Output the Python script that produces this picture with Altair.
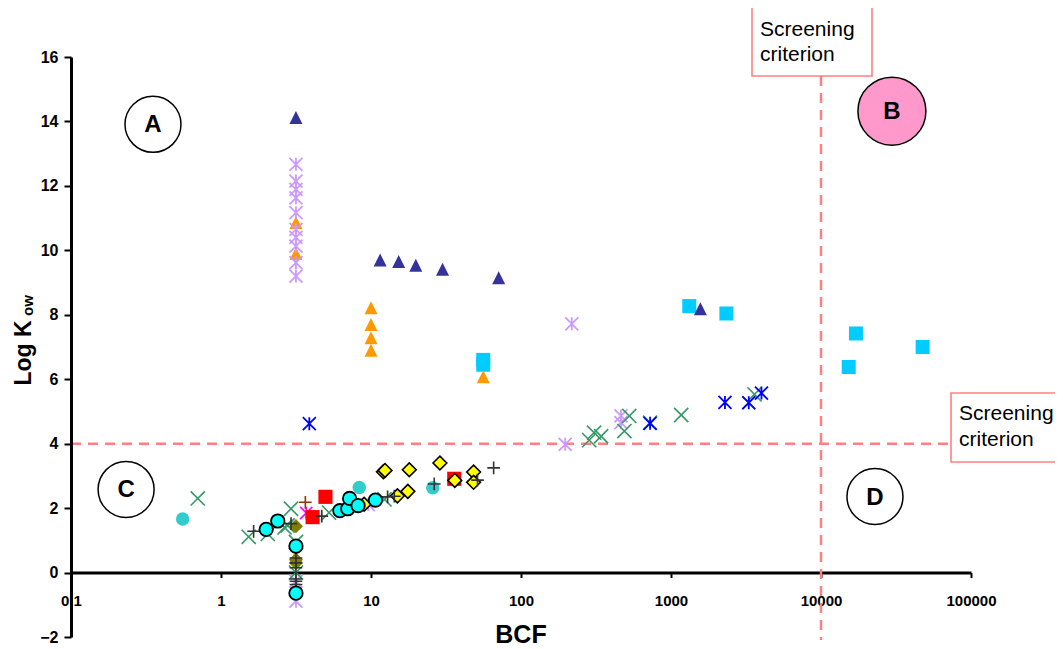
import altair as alt
import pandas as pd

FONT = "Liberation Sans"

# ---------------- data (BCF, log Kow) ----------------
cyan_sq_x = [56, 56, 1324, 2340, 17100, 47600, 15300]
cyan_sq_y = [6.6, 6.45, 8.27, 8.04, 7.42, 7.0, 6.38]

navy_tri_x = [3.16, 11.5, 15.3, 19.9, 30, 71, 1570]
navy_tri_y = [14.12, 9.7, 9.65, 9.54, 9.41, 9.15, 8.19]

orange_tri_x = [3.16, 3.16, 10, 10, 10, 10, 56, 3.16]
orange_tri_y = [10.86, 9.9, 8.22, 7.7, 7.29, 6.9, 6.08, 0.5]

lav_ast_x = [3.16, 3.16, 3.16, 3.16, 3.16, 3.16, 3.16, 3.16, 3.16, 3.16,
             218, 197, 464, 464, 9.6, 3.16, 3.16]
lav_ast_y = [12.67, 12.15, 11.89, 11.63, 11.17, 10.65, 10.4, 10.13, 9.62, 9.2,
             7.72, 3.98, 4.86, 4.65, 2.11, -0.27, -0.89]

green_x_x = [0.70, 1.53, 2.05, 2.65, 2.93, 2.78, 5.25, 12.3, 3.16, 3.16,
             285, 307, 342, 489, 527, 725, 1170, 3600]
green_x_y = [2.30, 1.11, 1.2, 1.4, 1.98, 1.46, 1.86, 2.27, 0.95, 0.0,
             4.11, 4.34, 4.23, 4.39, 4.86, 4.65, 4.89, 5.53]

blue_ast_x = [3.88, 725, 2290, 3300, 4010]
blue_ast_y = [4.62, 4.63, 5.28, 5.27, 5.57]

teal_circ_x = [0.555, 8.35, 25.8]
teal_circ_y = [1.66, 2.64, 2.63]

olive_dia_x = [3.16, 3.16, 3.16]
olive_dia_y = [1.44, 0.4, 0.3]

magenta_x = [3.7]
magenta_y = [1.85]

red_sq_x = [4.08, 4.97, 35.9]
red_sq_y = [1.72, 2.35, 2.91]

brown_plus_x = [3.65]
brown_plus_y = [2.18]

yellow_dia_x = [12.1, 12.4, 18, 28.8, 48.3, 15, 17.6, 36.2, 48.3, 9.0]
yellow_dia_y = [3.13, 3.17, 3.19, 3.4, 3.12, 2.38, 2.52, 2.86, 2.80, 2.12]

gray_plus_x = [1.65, 2.93, 4.7, 12.9, 14.3, 26.4, 51.3, 65.7,
               3.16, 3.16, 3.16, 3.16, 3.16, 3.16]
gray_plus_y = [1.28, 1.52, 1.75, 2.35, 2.37, 2.75, 2.87, 3.25,
               0.45, 0.3, 0.15, -0.2, -0.27, -0.37]

cyan_circ_x = [2.0, 2.39, 6.2, 7.0, 7.2, 8.2, 10.7, 3.16, 3.16]
cyan_circ_y = [1.34, 1.60, 1.92, 1.98, 2.30, 2.08, 2.25, 0.82, -0.64]

# screening criteria
crit_bcf = [10000]
crit_kow = [4]

# quadrant labels (positions in data units)
quad_labels = ["A", "B", "C", "D"]
quad_x = [0.352, 29700, 0.233, 22900]
quad_y = [13.91, 14.32, 2.58, 2.36]
quad_fill = ["white", "#FF99CC", "white", "white"]
quad_size = [3136, 4624, 3136, 3136]

x_ticks = [0.1, 1, 10, 100, 1000, 10000, 100000]
y_ticks = [-2, 0, 2, 4, 6, 8, 10, 12, 14, 16]

# ---------------- shapes ----------------
AST = "M-1,-1L1,1M-1,1L1,-1M0,-1L0,1"
XSH = "M-1,-1L1,1M-1,1L1,-1"
PLUS = "M-1,0L1,0M0,-1L0,1"
TRI = "M0,-1L1,1L-1,1Z"

xscale = alt.Scale(type="log", domain=[0.1, 100000], nice=False)
yscale = alt.Scale(domain=[-2, 16], nice=False, zero=False)

PLOT_W, PLOT_H = 900, 580
y0_px = PLOT_H * 16 / 18.0

x_axis = alt.Axis(
    values=x_ticks, labelExpr="datum.value < 1 ? '0.1' : format(datum.value, 'd')",
    grid=False, offset=-(PLOT_H - y0_px), domainColor="black", domainWidth=3,
    tickColor="black", tickWidth=2, tickSize=5, labelFont=FONT, labelFontWeight="bold",
    labelFontSize=15, labelColor="black", labelPadding=16, labelFlush=False,
    labelOverlap=False, title=None, zindex=0,
)
y_axis = alt.Axis(
    values=y_ticks, grid=False, domainColor="black", domainWidth=3, tickColor="black",
    tickWidth=2, tickSize=7, labelFont=FONT, labelFontWeight="bold", labelFontSize=16,
    labelColor="black", labelPadding=6, title=None, zindex=1,
)

X = alt.X("bcf:Q", scale=xscale, axis=x_axis)
Y = alt.Y("logkow:Q", scale=yscale, axis=y_axis)


def df(xs, ys):
    return pd.DataFrame({"bcf": xs, "logkow": ys})


def series(xs, ys, shape, size, color=None, fill=None, stroke=None, sw=1.5, filled=True):
    kw = dict(shape=shape, size=size, opacity=1, strokeWidth=sw)
    if filled:
        kw["filled"] = True
        kw["fill"] = fill
        if stroke:
            kw["stroke"] = stroke
        else:
            kw["strokeWidth"] = 0
    else:
        kw["filled"] = False
        kw["stroke"] = color
        kw["fill"] = "transparent"
    return alt.Chart(df(xs, ys)).mark_point(**kw).encode(x=X, y=Y)


one = pd.DataFrame({"k": [0]})

# screening lines
h_rule = alt.Chart(pd.DataFrame({"logkow": crit_kow})).mark_rule(
    color="#FF8080", strokeWidth=2.5, strokeDash=[10, 7]
).encode(y=Y, x=alt.value(0), x2=alt.value(880))
v_rule = alt.Chart(pd.DataFrame({"bcf": crit_bcf})).mark_rule(
    color="#FF8080", strokeWidth=2.5, strokeDash=[10, 7]
).encode(x=X, y=alt.value(19), y2=alt.value(583))

box_style = dict(fill="white", stroke="#FF8080", strokeWidth=1.6)
box_top = alt.Chart(one).mark_rect(**box_style).encode(
    x=alt.value(681), x2=alt.value(801), y=alt.value(-50), y2=alt.value(19))
box_right = alt.Chart(one).mark_rect(**box_style).encode(
    x=alt.value(880), x2=alt.value(1000), y=alt.value(336), y2=alt.value(405))

txt_style = dict(font=FONT, fontSize=21, color="black", align="left", baseline="middle")
t1 = alt.Chart(one).mark_text(**txt_style, text="Screening").encode(x=alt.value(689), y=alt.value(-27))
t2 = alt.Chart(one).mark_text(**txt_style, text="criterion").encode(x=alt.value(689), y=alt.value(-2))
t3 = alt.Chart(one).mark_text(**txt_style, text="Screening").encode(x=alt.value(888), y=alt.value(357))
t4 = alt.Chart(one).mark_text(**txt_style, text="criterion").encode(x=alt.value(888), y=alt.value(383))

quad_df = pd.DataFrame({"bcf": quad_x, "logkow": quad_y, "lab": quad_labels,
                        "fill": quad_fill, "size": quad_size})
quad_circ = alt.Chart(quad_df).mark_point(
    shape="circle", filled=True, stroke="black", strokeWidth=1.5, opacity=1
).encode(x=X, y=Y, fill=alt.Fill("fill:N", scale=None), size=alt.Size("size:Q", scale=None))
quad_txt = alt.Chart(quad_df).mark_text(
    font=FONT, fontSize=24, fontWeight="bold", color="black", baseline="middle", dy=1
).encode(x=X, y=Y, text="lab:N")

# axis titles
ytitle1 = alt.Chart(one).mark_text(
    font=FONT, fontSize=23, fontWeight="bold", color="black", angle=270,
    align="center", baseline="alphabetic", text="Log K"
).encode(x=alt.value(-40), y=alt.value(296))
ytitle2 = alt.Chart(one).mark_text(
    font=FONT, fontSize=15, fontWeight="bold", color="black", angle=270,
    align="left", baseline="alphabetic", text="ow"
).encode(x=alt.value(-38), y=alt.value(259))
xtitle = alt.Chart(one).mark_text(
    font=FONT, fontSize=25, fontWeight="bold", color="black",
    align="center", baseline="alphabetic", text="BCF"
).encode(x=alt.value(450), y=alt.value(586))

layers = [
    h_rule, v_rule,
    series(cyan_sq_x, cyan_sq_y, "square", 196, fill="#00CCFF"),
    series(navy_tri_x, navy_tri_y, TRI, 169, fill="#333399"),
    series(orange_tri_x, orange_tri_y, TRI, 169, fill="#FF9900"),
    series(lav_ast_x, lav_ast_y, AST, 169, color="#CC99FF", sw=1.8, filled=False),
    series(green_x_x, green_x_y, XSH, 200, color="#339966", sw=1.6, filled=False),
    series(blue_ast_x, blue_ast_y, AST, 169, color="#0000FF", sw=1.8, filled=False),
    series(teal_circ_x, teal_circ_y, "circle", 180, fill="#33CCCC"),
    series(olive_dia_x, olive_dia_y, "diamond", 200, fill="#808000"),
    series(magenta_x, magenta_y, AST, 150, color="#FF00FF", sw=1.6, filled=False),
    series(red_sq_x, red_sq_y, "square", 200, fill="#FF0000"),
    series(brown_plus_x, brown_plus_y, PLUS, 160, color="#993300", sw=1.6, filled=False),
    series(yellow_dia_x, yellow_dia_y, "diamond", 190, fill="#FFFF00", stroke="black", sw=1.6),
    series(gray_plus_x, gray_plus_y, PLUS, 160, color="#333333", sw=1.6, filled=False),
    series(cyan_circ_x, cyan_circ_y, "circle", 180, fill="#00FFFF", stroke="black", sw=1.8),
    box_top, box_right, t1, t2, t3, t4,
    quad_circ, quad_txt, ytitle1, ytitle2, xtitle,
]

chart = alt.layer(*layers).properties(
    width=PLOT_W, height=PLOT_H,
    autosize=alt.AutoSizeParams(type="none"),
    padding={"left": 63, "top": 49, "right": 84, "bottom": 12},
    background="white",
).configure_view(stroke=None)

chart.save("out.html", embed_options={"renderer": "svg", "actions": False})
